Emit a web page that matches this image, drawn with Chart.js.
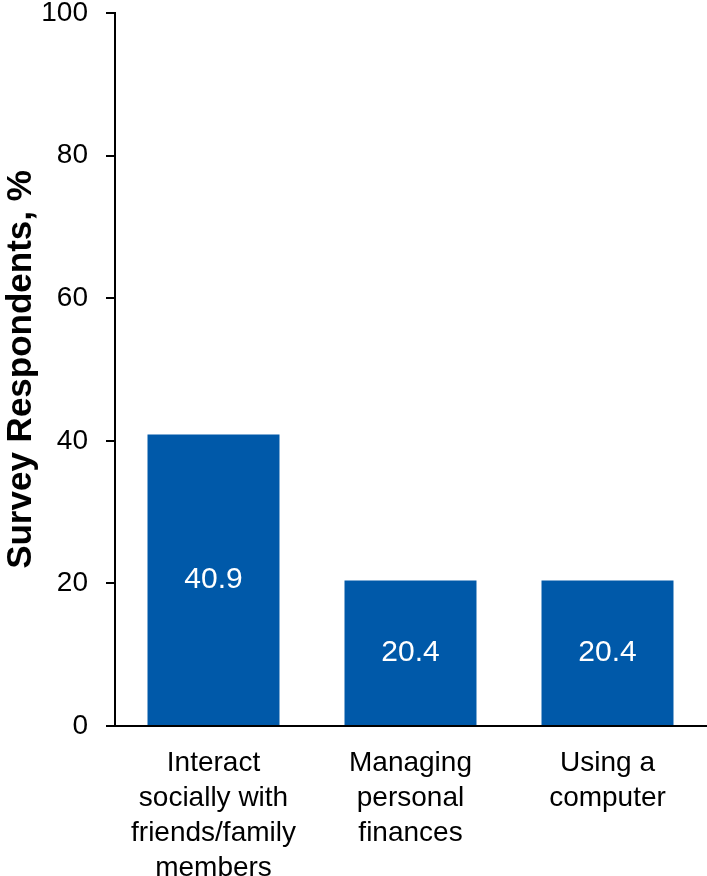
<!DOCTYPE html>
<html>
<head>
<meta charset="utf-8">
<script src="https://cdn.jsdelivr.net/npm/chart.js@4"></script>
<style>
html,body{margin:0;padding:0;background:#fff;}
#wrap{width:707px;height:876px;}
</style>
</head>
<body>
<div id="wrap"><canvas id="c" width="707" height="876"></canvas></div>
<script>
const categories = [
  ["Interact", "socially with", "friends/family", "members"],
  ["Managing", "personal", "finances"],
  ["Using a", "computer"]
];
const values = [40.9, 20.4, 20.4];
const valueLabels = ["40.9", "20.4", "20.4"];
const yTicks = [0, 20, 40, 60, 80, 100];

const FONT = "'Liberation Sans', Arial, Helvetica, sans-serif";

const barLabels = {
  id: 'barLabels',
  afterDatasetsDraw(chart) {
    const ctx = chart.ctx;
    const meta = chart.getDatasetMeta(0);
    ctx.save();
    ctx.fillStyle = '#ffffff';
    ctx.font = "30px " + FONT;
    ctx.textAlign = 'center';
    ctx.textBaseline = 'middle';
    meta.data.forEach((bar, i) => {
      const y = (bar.y + bar.base) / 2;
      ctx.fillText(valueLabels[i], bar.x, y);
    });
    ctx.restore();
  }
};

new Chart(document.getElementById('c'), {
  type: 'bar',
  data: {
    labels: categories,
    datasets: [{
      data: values,
      backgroundColor: '#0059A9',
      borderWidth: 0,
      barPercentage: 0.67,
      categoryPercentage: 1.0
    }]
  },
  options: {
    responsive: false,
    animation: false,
    devicePixelRatio: 1,
    layout: { padding: { top: 13, right: 1, left: 0, bottom: 0 } },
    plugins: { legend: { display: false }, tooltip: { enabled: false } },
    scales: {
      x: {
        afterFit(scale) { scale.height = 150; },
        grid: { display: false, drawTicks: false },
        border: { display: true, color: '#000', width: 2 },
        ticks: {
          color: '#000',
          font: { family: FONT, size: 28, lineHeight: 1.25 },
          padding: 20,
          maxRotation: 0,
          autoSkip: false
        }
      },
      y: {
        min: 0, max: 100,
        afterBuildTicks(scale) { scale.ticks = yTicks.map(v => ({ value: v })); },
        afterFit(scale) { scale.width = 115; scale.paddingTop = 0; scale.paddingBottom = 0; },
        grid: { display: true, drawOnChartArea: false, drawTicks: true, tickLength: 9, color: '#000', lineWidth: 2 },
        border: { display: true, color: '#000', width: 2 },
        ticks: {
          color: '#000',
          font: { family: FONT, size: 28 },
          padding: 18
        },
        title: {
          display: true,
          text: 'Survey Respondents, %',
          color: '#000',
          font: { family: FONT, size: 35, weight: 'bold' },
          padding: 0
        }
      }
    }
  },
  plugins: [barLabels]
});
</script>
</body>
</html>
